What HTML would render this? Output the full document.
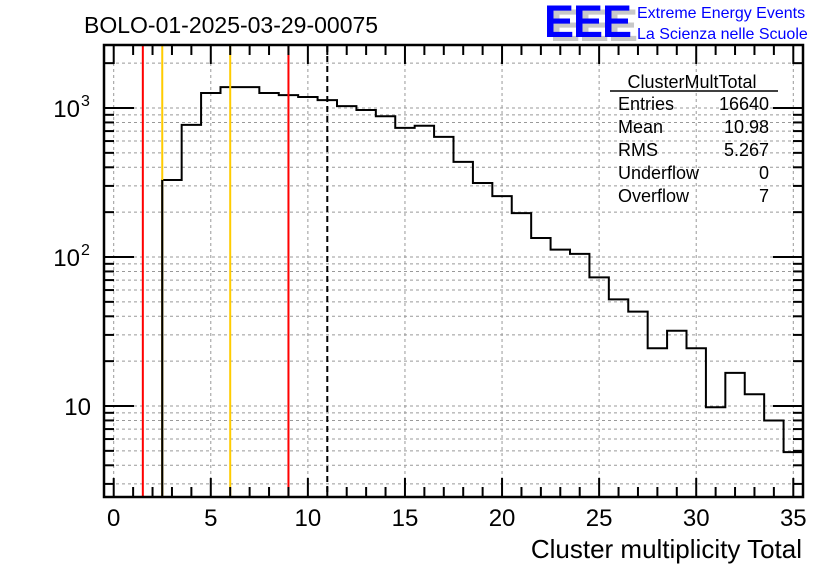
<!DOCTYPE html>
<html><head><meta charset="utf-8"><style>
body{margin:0;background:#fff;}
svg{display:block;font-family:"Liberation Sans",sans-serif;}
</style></head><body>
<svg id="c" width="836" height="572">
<text x="84" y="33" font-size="23">BOLO-01-2025-03-29-00075</text>
<g>
<text x="550" y="41" font-size="45" font-weight="bold" fill="#c8c8c8" letter-spacing="-1">EEE</text>
<text x="544" y="37" font-size="45" font-weight="bold" fill="#0000ff" letter-spacing="-1">EEE</text>
</g>
<text x="637" y="18" font-size="16" fill="#0000ff">Extreme Energy Events</text>
<text x="637" y="39" font-size="16" fill="#0000ff">La Scienza nelle Scuole</text>
<g id="grid"></g><g id="marks"></g><g id="axes"></g>
<g font-size="18">
<text x="692" y="88" text-anchor="middle">ClusterMultTotal</text>
<line x1="610" y1="91" x2="778" y2="91" stroke="#000" stroke-width="1.5"/>
<text x="618" y="110">Entries</text><text x="769" y="110" text-anchor="end">16640</text>
<text x="618" y="133">Mean</text><text x="769" y="133" text-anchor="end">10.98</text>
<text x="618" y="156">RMS</text><text x="769" y="156" text-anchor="end">5.267</text>
<text x="618" y="179">Underflow</text><text x="769" y="179" text-anchor="end">0</text>
<text x="618" y="202">Overflow</text><text x="769" y="202" text-anchor="end">7</text>
</g>
<text x="802" y="558" font-size="26" text-anchor="end">Cluster multiplicity Total</text>
</svg>
<script>
const bins=[3,4,5,6,7,8,9,10,11,12,13,14,15,16,17,18,19,20,21,22,23,24,25,26,27,28,29,30,31,32,33,34,35];
const counts=[329,770,1260,1380,1380,1260,1220,1185,1130,1030,970,880,735,760,640,435,314,256,197,134,112,105,73,52,43,24.4,32,24.4,9.8,16.7,12,8,4.9];
const xTicks=[0,5,10,15,20,25,30,35];
const yTicks=[10,100,1000];
const yTickLabels=["10","10","10"];
const vlines=[1.5,2.5,6,9,11];
const vlineColors=["#ff0000","#ffcc00","#ffcc00","#ff0000","#000"];
const L=104,R=803,T=45,B=497,X0=-0.5,X1=35.5;
const sx=v=>L+(v-X0)/(X1-X0)*(R-L);
const sy=v=>406-(Math.log10(v)-1)*149;
const NS="http://www.w3.org/2000/svg";
function mk(p,t,a){const e=document.createElementNS(NS,t);for(const k in a)e.setAttribute(k,a[k]);p.appendChild(e);return e;}
const g=document.getElementById('grid'),m=document.getElementById('marks'),ax=document.getElementById('axes');
xTicks.forEach(v=>{const l=mk(g,'line',{x1:sx(v),x2:sx(v),y1:T,y2:B,stroke:'#999','stroke-dasharray':'3,3'});

});
for(let d=1;d<=1000;d*=10)for(let k=1;k<10;k++){const v=d*k,y=sy(v);if(y<T||y>B)continue;
const l=mk(g,'line',{x1:L,x2:R,y1:y,y2:y,stroke:'#999','stroke-dasharray':'3,3'});


const t1=mk(ax,'line',{x1:L,x2:L+(k==1?30:10),y1:y,y2:y,stroke:'#000','stroke-width':2});


const t2=mk(ax,'line',{x1:R,x2:R-(k==1?30:10),y1:y,y2:y,stroke:'#000','stroke-width':2});

}
let d='M'+sx(bins[0]-0.5)+','+B;
bins.forEach((b,i)=>{const y=sy(counts[i]);d+=' L'+sx(b-0.5)+','+y+' L'+sx(b+0.5)+','+y;});
d+=' L'+sx(bins[bins.length-1]+0.5)+','+B;
const h=mk(m,'path',{d:d,fill:'none',stroke:'#000','stroke-width':2});


vlines.forEach((v,i)=>{const a={x1:sx(v),x2:sx(v),y1:T,y2:B,stroke:vlineColors[i],'stroke-width':2};
if(i==4){a['stroke-dasharray']='6,4';a.y1=T+1;}
const l=mk(m,'line',a);

});
mk(m,'line',{x1:sx(2.5),x2:sx(2.5),y1:sy(counts[0]),y2:B,stroke:'#000','stroke-width':2});
const fr=mk(ax,'rect',{x:L,y:T,width:R-L,height:B-T,fill:'none',stroke:'#000','stroke-width':2.5});


for(let v=0;v<=35;v++){const maj=v%5==0;
mk(ax,'line',{x1:sx(v),x2:sx(v),y1:B,y2:B-(maj?19:10),stroke:'#000','stroke-width':2});
mk(ax,'line',{x1:sx(v),x2:sx(v),y1:T,y2:T+(maj?19:10),stroke:'#000','stroke-width':2});}
xTicks.forEach(v=>{const t=mk(ax,'text',{x:sx(v),y:526,'font-size':24,'text-anchor':'middle'});t.textContent=v;

});
yTicks.forEach((v,i)=>{const t=mk(ax,'text',{x:i==0?91:80,y:sy(v)+9,'font-size':24,'text-anchor':'end'});
t.textContent=yTickLabels[i];


if(i>0){const s=mk(ax,'text',{x:81,y:sy(v)-2,'font-size':16});s.textContent=String(Math.round(Math.log10(v)));}});
</script>
</body></html>
